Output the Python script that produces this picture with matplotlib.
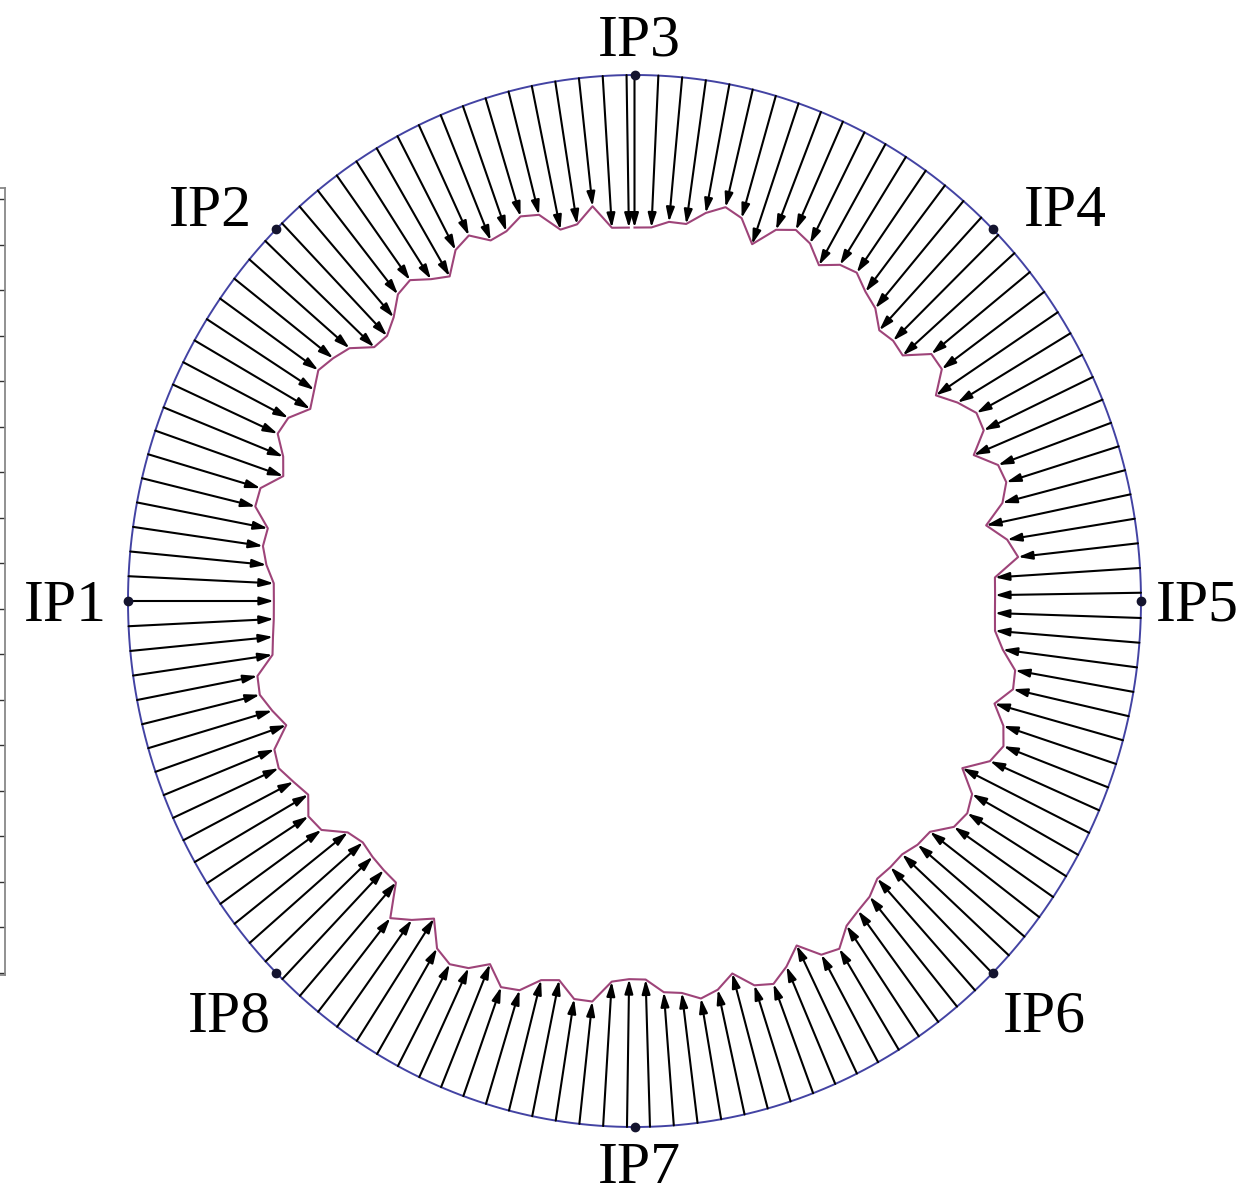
import numpy as np
import matplotlib.pyplot as plt

plt.rcParams["font.family"] = ["Liberation Serif", "DejaVu Serif"]

# interaction points, clockwise from the left
ip_labels = ["IP1", "IP2", "IP3", "IP4", "IP5", "IP6", "IP7", "IP8"]
ip_angle = [180, 135, 90, 45, 0, -45, -90, -135]

# arrows are grouped in four arcs, data starts at IP3 and runs clockwise
arc_start = [0.0, 91.85, 180.85, 270.0]   # deg clockwise from IP3
arc_step = 2.7

# inner radius (fraction of ring radius) at each arrow tip
r_ip3_ip5 = [0.710, 0.711, 0.724, 0.724, 0.751, 0.770, 0.758, 0.717, 0.759, 0.774,
             0.763, 0.735, 0.757, 0.763, 0.744, 0.732, 0.706, 0.711, 0.706, 0.751,
             0.750, 0.712, 0.741, 0.764, 0.762, 0.725, 0.763, 0.768, 0.750, 0.709,
             0.745, 0.762, 0.713, 0.712]
r_ip5_ip7 = [0.712, 0.714, 0.733, 0.763, 0.766, 0.737, 0.766, 0.779, 0.765, 0.721,
             0.761, 0.771, 0.763, 0.730, 0.726, 0.715, 0.715, 0.713, 0.729, 0.736,
             0.746, 0.775, 0.767, 0.729, 0.757, 0.778, 0.768, 0.734, 0.757, 0.767,
             0.751, 0.746, 0.720]
r_ip7_ip1 = [0.719, 0.725, 0.766, 0.766, 0.736, 0.744, 0.774, 0.780, 0.747, 0.771,
             0.781, 0.767, 0.722, 0.749, 0.772, 0.713, 0.712, 0.710, 0.706, 0.717,
             0.756, 0.763, 0.742, 0.756, 0.771, 0.765, 0.727, 0.745, 0.761, 0.758,
             0.722, 0.717, 0.713]
r_ip1_ip3 = [0.712, 0.713, 0.730, 0.741, 0.737, 0.770, 0.769, 0.733, 0.746, 0.773,
             0.767, 0.737, 0.749, 0.763, 0.753, 0.740, 0.705, 0.702, 0.719, 0.747,
             0.754, 0.732, 0.717, 0.755, 0.768, 0.742, 0.747, 0.765, 0.758, 0.721,
             0.725, 0.755, 0.711, 0.710]
arcs = [r_ip3_ip5, r_ip5_ip7, r_ip7_ip1, r_ip1_ip3]

ring_col = "#4343a3"
inner_col = "#9e4479"

fig = plt.figure(figsize=(12.52, 11.92), dpi=100)
ax = fig.add_axes([128 / 1252, 65 / 1192, 1013 / 1252, 1052 / 1192])
ax.set_xlim(-1, 1)
ax.set_ylim(-1, 1)
ax.axis("off")

t = np.linspace(0, 2 * np.pi, 721)
ax.plot(np.cos(t), np.sin(t), color=ring_col, lw=1.4, clip_on=False, zorder=1)

inner_x, inner_y = [], []
for start, radii in zip(arc_start, arcs):
    theta = start + arc_step * np.arange(len(radii))
    phi = np.radians(90 - theta)
    for p, r in zip(phi, radii):
        x0, y0 = np.cos(p), np.sin(p)
        x1, y1 = r * x0, r * y0
        inner_x.append(x1)
        inner_y.append(y1)
        ax.annotate("", xy=(x1, y1), xytext=(x0, y0),
                    arrowprops=dict(arrowstyle="-|>,head_length=0.85,head_width=0.25",
                                    color="black", lw=1.5, shrinkA=0, shrinkB=0),
                    annotation_clip=False, zorder=3)

ax.plot(inner_x, inner_y, color=inner_col, lw=1.5, clip_on=False, zorder=2)

a = np.radians(ip_angle)
ax.plot(np.cos(a), np.sin(a), "o", color="#14142e", ms=6, clip_on=False, zorder=4)

label_pos = [(-1.124, -0.038), (-0.838, 0.713), (0.009, 1.038), (0.850, 0.713),
             (1.111, -0.038), (0.809, -0.819), (0.009, -1.106), (-0.799, -0.819)]
for name, (lx, ly) in zip(ip_labels, label_pos):
    ax.text(lx, ly, name, fontsize=43, ha="center", va="baseline", clip_on=False)

# edge of the neighbouring panel on the left
lax = fig.add_axes([-0.2, 217 / 1192, 0.2 + 5.5 / 1252, 787 / 1192])
lax.set_xlim(0, 1)
lax.set_ylim(0, 787)
lax.set_xticks([])
lax.set_yticks(776 - 45.5 * np.arange(18))
lax.yaxis.tick_right()
lax.tick_params(axis="y", direction="in", length=6, width=1, colors="#333333",
                labelright=False)
for s in lax.spines.values():
    s.set_color("#888888")
    s.set_linewidth(1.3)

fig.savefig("out.png", dpi=100)
